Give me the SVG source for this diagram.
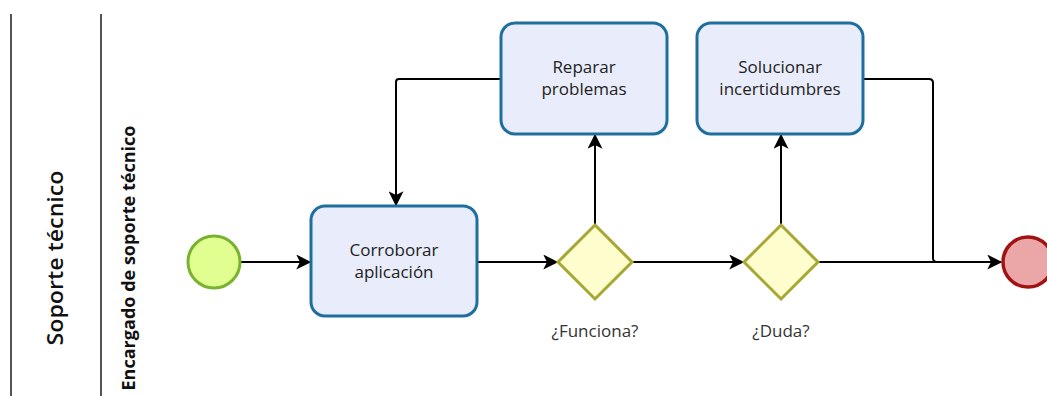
<svg xmlns="http://www.w3.org/2000/svg" width="1047" height="396" viewBox="0 0 1047 396">
  <defs>
    <marker id="arrow" viewBox="0 0 12 12" refX="11" refY="6" markerWidth="15" markerHeight="15" markerUnits="userSpaceOnUse" orient="auto">
      <path d="M0,0 L12,6 L0,12 L3,6 Z" fill="#000"/>
    </marker>
    <style>
      .lane { stroke: #555; stroke-width: 2; fill: none; }
      .task rect { fill: #e9edfb; stroke: #1f6f9e; stroke-width: 3; }
      .gw polygon { fill: #fdfdcd; stroke: #a7a733; stroke-width: 3; }
      .flow { fill: none; stroke: #000; stroke-width: 2; }
      .label { font-family: "Open Sans", "Noto Sans", sans-serif; font-size: 17px; fill: #222; text-anchor: middle; }
      .glabel { font-family: "Open Sans", "Noto Sans", sans-serif; font-size: 17px; fill: #333; text-anchor: middle; }
    </style>
  </defs>

  <!-- pool and lane -->
  <g id="pool">
    <line class="lane" x1="11" y1="14" x2="11" y2="396"/>
    <line class="lane" x1="101" y1="14" x2="101" y2="396"/>
    <text transform="translate(63,258) rotate(-90)" font-family="Open Sans, Noto Sans, sans-serif" font-size="22" font-weight="600" fill="#111" text-anchor="middle" textLength="175" lengthAdjust="spacingAndGlyphs">Soporte técnico</text>
    <text transform="translate(135,258) rotate(-90)" font-family="Open Sans, Noto Sans, sans-serif" font-size="17" font-weight="bold" fill="#111" text-anchor="middle" textLength="265" lengthAdjust="spacingAndGlyphs">Encargado de soporte técnico</text>
  </g>

  <!-- sequence flows -->
  <g id="connectors">
    <path class="flow" d="M241,262 H310" marker-end="url(#arrow)"/>
    <path class="flow" d="M477,262 H557" marker-end="url(#arrow)"/>
    <path class="flow" d="M595,225 V135" marker-end="url(#arrow)"/>
    <path class="flow" d="M501,79 H399 Q396,79 396,82 V205" marker-end="url(#arrow)"/>
    <path class="flow" d="M632,262 H743" marker-end="url(#arrow)"/>
    <path class="flow" d="M781,225 V135" marker-end="url(#arrow)"/>
    <path class="flow" d="M818,262 H1001" marker-end="url(#arrow)"/>
    <path class="flow" d="M864,79 H929 Q933,79 933,83 V258 Q933,262 937,262 H1001"/>
  </g>

  <g id="start">
    <circle cx="214" cy="262" r="26" fill="#e1fe90" stroke="#79b22f" stroke-width="3"/>
  </g>

  <g id="corroborar" class="task">
    <rect x="311" y="206" width="166" height="110" rx="14"/>
    <text class="label" x="394" y="256">Corroborar</text>
    <text class="label" x="394" y="278">aplicación</text>
  </g>

  <g id="reparar" class="task">
    <rect x="501" y="23" width="166" height="111" rx="14"/>
    <text class="label" x="584" y="73">Reparar</text>
    <text class="label" x="584" y="95">problemas</text>
  </g>

  <g id="solucionar" class="task">
    <rect x="697" y="23" width="166" height="111" rx="14"/>
    <text class="label" x="780" y="73">Solucionar</text>
    <text class="label" x="780" y="95">incertidumbres</text>
  </g>

  <g id="funciona" class="gw">
    <polygon points="595,225 632,262 595,299 558,262"/>
    <text class="glabel" x="595" y="337">¿Funciona?</text>
  </g>

  <g id="duda" class="gw">
    <polygon points="781,225 818,262 781,299 744,262"/>
    <text class="glabel" x="781" y="337">¿Duda?</text>
  </g>

  <g id="end">
    <circle cx="1028" cy="262" r="25" fill="#eba7a7" stroke="#a11313" stroke-width="3.5"/>
  </g>
</svg>
